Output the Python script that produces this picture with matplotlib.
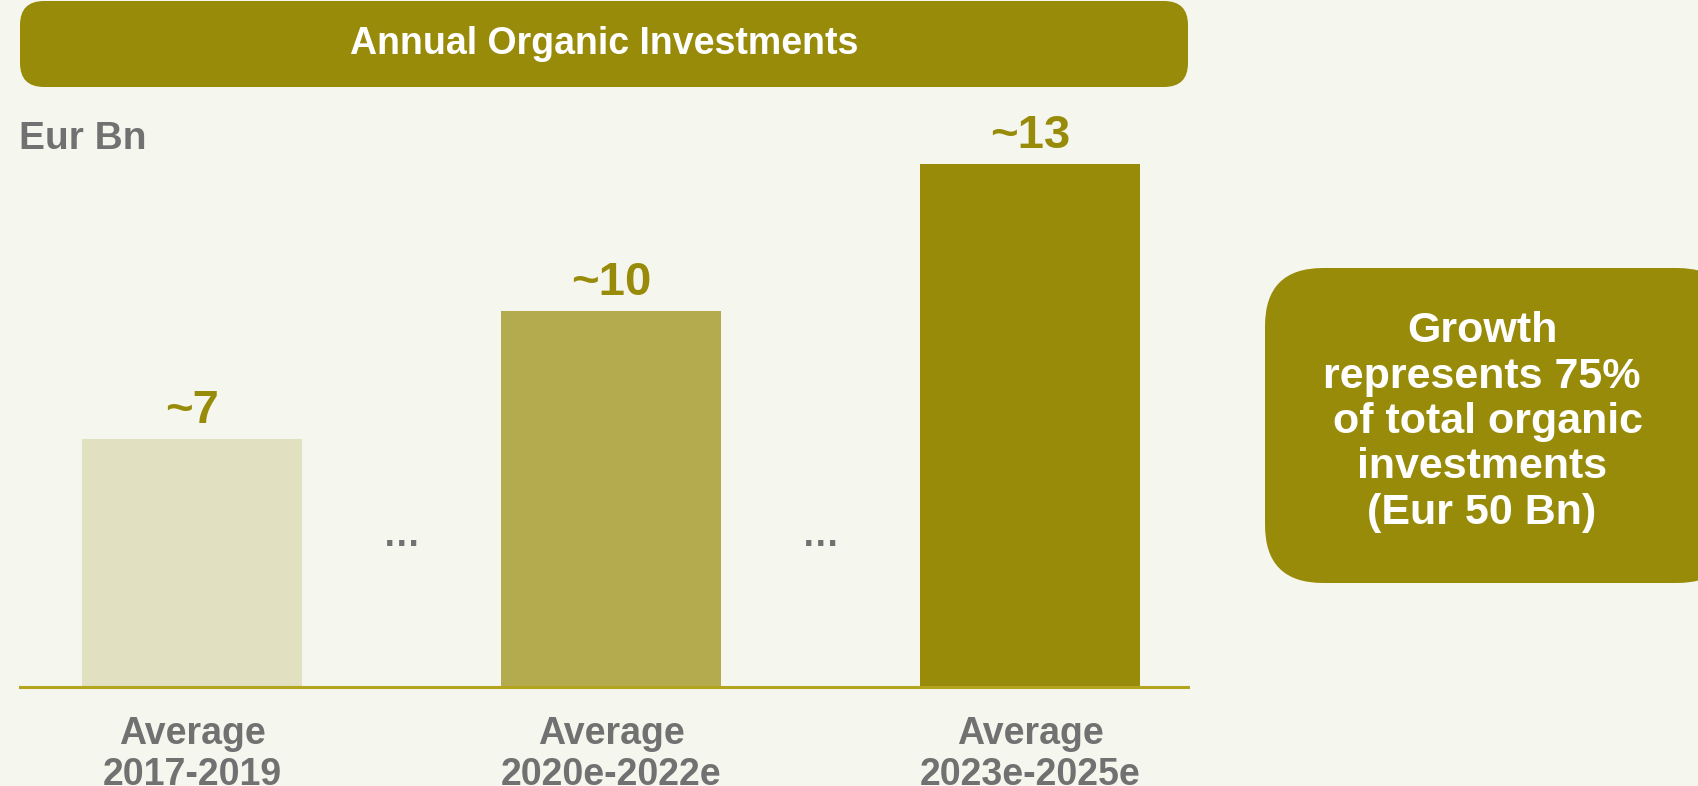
import matplotlib
matplotlib.use("Agg")
import matplotlib.pyplot as plt
from matplotlib.patches import FancyBboxPatch

# ---- data ----
categories = ["Average\n2017-2019", "Average\n2020e-2022e", "Average\n2023e-2025e"]
values = [6.6, 10.0, 13.9]
value_labels = ["~7", "~10", "~13"]
bar_colors = ["#E1E0C1", "#B4AA4E", "#998B0A"]
title = "Annual Organic Investments"
unit_label = "Eur Bn"
note_text = "Growth\nrepresents 75%\n of total organic\ninvestments\n(Eur 50 Bn)"

BG = "#F5F7EE"
OLIVE = "#998B0A"
GRAY = "#717171"
FONT = "Liberation Sans"

W, H = 1698, 786
fig = plt.figure(figsize=(W / 100, H / 100), dpi=100, facecolor=BG)

# overlay axes in pixel coordinates for decorations
ov = fig.add_axes([0, 0, 1, 1], zorder=0)
ov.set_xlim(0, W)
ov.set_ylim(H, 0)
ov.axis("off")
ov.set_facecolor("none")

# title banner
ov.add_patch(FancyBboxPatch((20, 1), 1168, 86, boxstyle="round,pad=0,rounding_size=24",
                            facecolor=OLIVE, edgecolor="none"))
ov.text(604, 44, title, color="white", fontsize=27, fontweight="bold",
        family=FONT, ha="center", va="center")

# unit label
ov.text(19, 139, unit_label, color=GRAY, fontsize=28, fontweight="bold",
        family=FONT, ha="left", va="center")

# right note box
ov.add_patch(FancyBboxPatch((1265, 268), 470, 315, boxstyle="round,pad=0,rounding_size=58",
                            facecolor=OLIVE, edgecolor="none"))
ov.text(1482, 422, note_text, color="white", fontsize=31, fontweight="bold",
        family=FONT, ha="center", va="center", linespacing=1.17, multialignment="center")

# bar chart axes
left = 19.5 / W
right = 1188 / W
bottom = (H - 687) / H
top = (H - 164) / H
ax = fig.add_axes([left, bottom, right - left, top - bottom], zorder=1)
ax.set_facecolor("none")
x = list(range(len(categories)))
ax.bar(x, values, width=0.525, color=bar_colors, edgecolor="none")
ax.set_xlim(-0.412, 2.377)
ax.set_ylim(0, 13.9)

for xi, v, lab in zip(x, values, value_labels):
    ax.annotate(lab, (xi, v), xytext=(0, 4), textcoords="offset points",
                ha="center", va="bottom", color=OLIVE, fontsize=34,
                fontweight="bold", family=FONT, annotation_clip=False)

# ellipses between bars
for xi in [0.5, 1.5]:
    ax.text(xi, 4.0, "…", ha="center", va="center", color=GRAY, fontsize=27,
            fontweight="bold", family=FONT)

for s in ["top", "left", "right"]:
    ax.spines[s].set_visible(False)
ax.spines["bottom"].set_color("#B5A41E")
ax.spines["bottom"].set_linewidth(2.2)
ax.set_yticks([])
ax.set_xticks(x)
ax.set_xticklabels(categories, color=GRAY, fontsize=27, fontweight="bold",
                   family=FONT, linespacing=1.18)
ax.tick_params(axis="x", length=0, pad=21)

fig.savefig("out.png", dpi=100, facecolor=BG)
